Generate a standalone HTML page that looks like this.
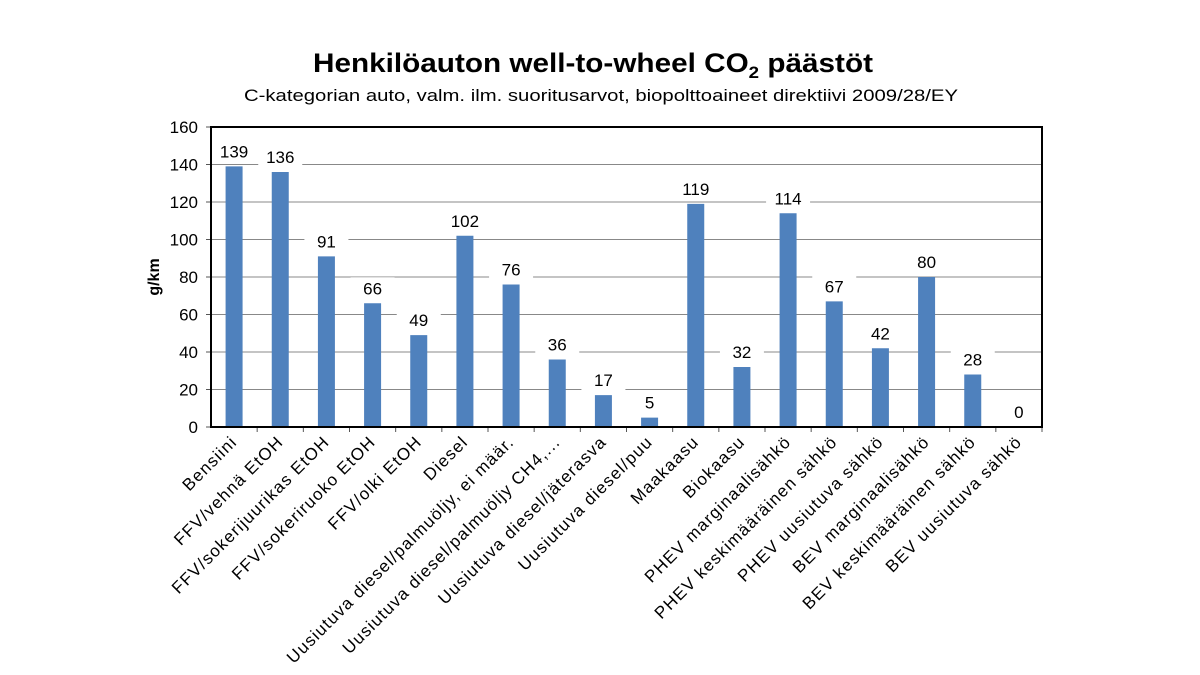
<!DOCTYPE html>
<html><head><meta charset="utf-8"><style>body{margin:0;background:#fff}svg{display:block}text{font-family:"Liberation Sans",sans-serif;fill:#000}</style></head><body>
<svg width="1200" height="675" viewBox="0 0 1200 675">
<text x="313" y="72" font-size="27" font-weight="bold" textLength="560" lengthAdjust="spacingAndGlyphs">Henkilöauton well-to-wheel CO<tspan font-size="17" dy="6">2</tspan><tspan dy="-6"> päästöt</tspan></text>
<text x="244" y="101" font-size="17" textLength="714" lengthAdjust="spacingAndGlyphs">C-kategorian auto, valm. ilm. suoritusarvot, biopolttoaineet direktiivi 2009/28/EY</text>
<g id="g"></g>
<text transform="translate(159,277) rotate(-90)" text-anchor="middle" font-size="16" font-weight="bold">g/km</text>
</svg>
<script>
const ns="http://www.w3.org/2000/svg",g=document.getElementById("g");
function el(t,a,txt){const e=document.createElementNS(ns,t);for(const k in a)e.setAttribute(k,a[k]);if(txt!=null)e.textContent=txt;g.appendChild(e);return e;}
const L=211,R=1042,T=127,B=427,n=18,w=(R-L)/n;const y=v=>B-v*(B-T)/160;
for(let v=0;v<=160;v+=20){if(v>0&&v<160)el("line",{x1:L,x2:R,y1:y(v),y2:y(v),stroke:"#888","stroke-width":1});
el("text",{x:L-13,y:y(v)+6,"text-anchor":"end","font-size":17},v);el("line",{x1:L-5,x2:L,y1:y(v),y2:y(v),stroke:"#555"});}
const d=[["Bensiini",139],["FFV/vehnä EtOH",136],["FFV/sokerijuurikas EtOH",91],["FFV/sokeriruoko EtOH",66],["FFV/olki EtOH",49],["Diesel",102],["Uusiutuva diesel/palmuöljy, ei määr.",76],["Uusiutuva diesel/palmuöljy CH4,...",36],["Uusiutuva diesel/jäterasva",17],["Uusiutuva diesel/puu",5],["Maakaasu",119],["Biokaasu",32],["PHEV marginaalisähkö",114],["PHEV keskimääräinen sähkö",67],["PHEV uusiutuva sähkö",42],["BEV marginaalisähkö",80],["BEV keskimääräinen sähkö",28],["BEV uusiutuva sähkö",0]];
d.forEach((p,i)=>{const c=L+w*(i+.5);
el("rect",{x:c-8.5,y:y(p[1]),width:17,height:B-y(p[1]),fill:"#4f81bd"});
const ly=y(p[1])-12;el("rect",{x:c-22,y:ly-14,width:44,height:22,fill:"#fff"});
el("text",{x:c,y:ly+3,"text-anchor":"middle","font-size":17},p[1]);
el("line",{x1:L+w*(i+1),x2:L+w*(i+1),y1:B,y2:B+5,stroke:"#555"});
el("text",{transform:`translate(${c+4},${B+16}) rotate(-45)`,"text-anchor":"end","font-size":17,"letter-spacing":"1.2"},p[0]);});
el("rect",{x:L,y:T,width:R-L,height:B-T,fill:"none",stroke:"#000","stroke-width":2});
</script>
</body></html>
